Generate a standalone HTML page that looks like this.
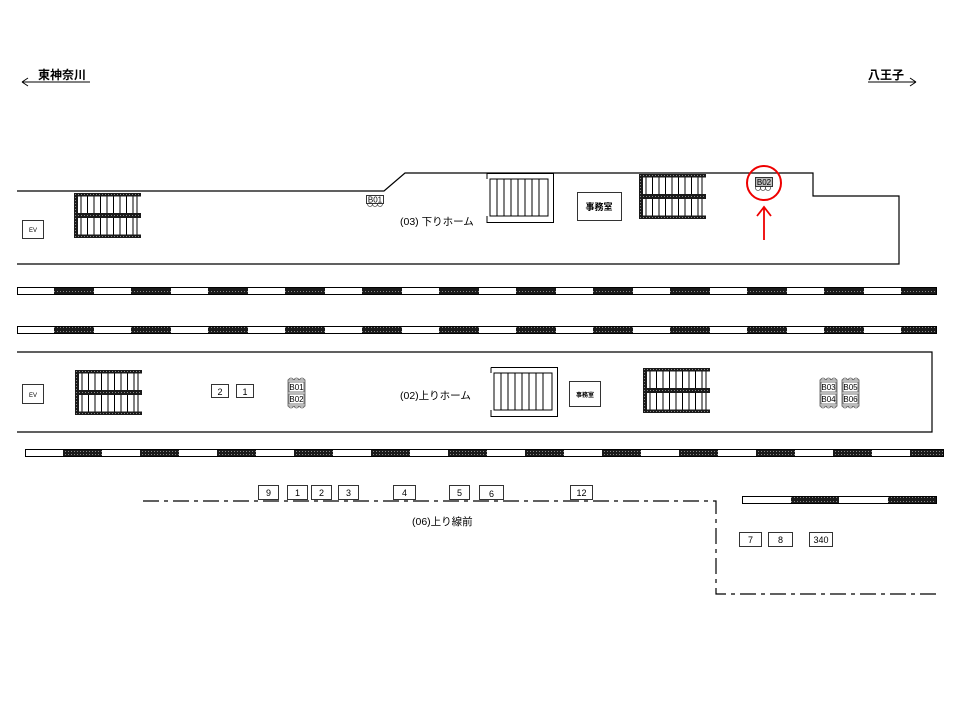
<!DOCTYPE html>
<html><head><meta charset="utf-8"><style>
html,body{margin:0;padding:0;background:#fff}
svg{display:block}
text{font-family:"Liberation Sans","Noto Sans CJK JP",sans-serif;fill:#000}
</style></head><body>
<svg width="960" height="720" viewBox="0 0 960 720" xmlns="http://www.w3.org/2000/svg">
<defs>
<pattern id="dk" width="3" height="3" patternUnits="userSpaceOnUse">
<rect width="3" height="3" fill="#1a1a1a"/><rect x="1" y="1" width="1" height="1" fill="#888"/>
</pattern>
<pattern id="trk" x="17" y="0" width="77" height="10" patternUnits="userSpaceOnUse">
<rect width="37" height="10" fill="#fff"/><rect x="37" width="40" height="10" fill="url(#dk)"/>
</pattern>
<pattern id="trk2" x="25" y="0" width="77" height="10" patternUnits="userSpaceOnUse">
<rect width="38" height="10" fill="#fff"/><rect x="38" width="39" height="10" fill="url(#dk)"/>
</pattern>
<pattern id="trk3" x="742" y="0" width="97" height="10" patternUnits="userSpaceOnUse">
<rect width="49" height="10" fill="#fff"/><rect x="49" width="48" height="10" fill="url(#dk)"/>
</pattern>
<g id="stair">
<rect x="0" y="0" width="67" height="3.5" fill="url(#dk)"/>
<rect x="0" y="20" width="67" height="5" fill="url(#dk)"/>
<rect x="0" y="41.5" width="67" height="3.5" fill="url(#dk)"/>
<rect x="0" y="0" width="4" height="45" fill="url(#dk)"/>
<g stroke="#000" stroke-width="1">
<path d="M7 3.5V20M13.5 3.5V20M20 3.5V20M26.5 3.5V20M33 3.5V20M39.5 3.5V20M46 3.5V20M52.5 3.5V20M59 3.5V20M63 3.5V20"/>
<path d="M7 25V41.5M13.5 25V41.5M20 25V41.5M26.5 25V41.5M33 25V41.5M39.5 25V41.5M46 25V41.5M52.5 25V41.5M59 25V41.5M63 25V41.5"/>
</g>
</g>
<g id="esc" fill="none" stroke="#000" stroke-width="1">
<path d="M1 0.5H67.5V49.5H1V43M1 0.5V6" fill="#fff"/>
<rect x="4" y="6" width="58" height="37"/>
<path d="M11 6V43M18 6V43M25 6V43M32 6V43M39 6V43M46 6V43M53 6V43"/>
</g>
<g id="bench" fill="none" stroke="#555" stroke-width="0.8">
<circle cx="4" cy="2.5" r="2.5"/><circle cx="9.5" cy="2.5" r="2.5"/><circle cx="15" cy="2.5" r="2.5"/>
<circle cx="4" cy="27.5" r="2.5"/><circle cx="9.5" cy="27.5" r="2.5"/><circle cx="15" cy="27.5" r="2.5"/>
<rect x="1" y="2" width="17" height="26" fill="#fff"/>
<rect x="2" y="4" width="15" height="10"/><rect x="2" y="16" width="15" height="10"/>
</g>
</defs>

<text x="38" y="79" font-size="12" font-weight="bold">東神奈川</text>
<path d="M22 82H90M22 82l6-4M22 82l6 4" stroke="#000" fill="none" stroke-width="1"/>
<text x="868" y="79" font-size="12" font-weight="bold">八王子</text>
<path d="M868 82H916M916 82l-6-4M916 82l-6 4" stroke="#000" fill="none" stroke-width="1"/>

<path d="M17 191H384L405 173H813V196H899V264H17" fill="none" stroke="#000" stroke-width="1.2"/>
<rect x="22.5" y="220.5" width="21" height="18" fill="#fff" stroke="#333"/>
<text x="33" y="232" font-size="6" text-anchor="middle">EV</text>
<use href="#stair" x="74" y="193"/>
<g>
<circle cx="370" cy="204" r="2.5" fill="none" stroke="#555" stroke-width="0.8"/><circle cx="375" cy="204" r="2.5" fill="none" stroke="#555" stroke-width="0.8"/><circle cx="380" cy="204" r="2.5" fill="none" stroke="#555" stroke-width="0.8"/>
<rect x="366.5" y="195.5" width="17" height="8" fill="#fff" stroke="#333"/>
<text x="375" y="202.5" font-size="8" text-anchor="middle">B01</text>
</g>
<text x="400" y="225" font-size="10.5">(03) 下りホーム</text>
<use href="#esc" x="486" y="173"/>
<rect x="577.5" y="192.5" width="44" height="28" fill="#fff" stroke="#333"/>
<text x="599" y="210" font-size="9" text-anchor="middle" font-weight="bold">事務室</text>
<use href="#stair" x="639" y="174"/>
<g>
<circle cx="758" cy="188" r="2.5" fill="none" stroke="#555" stroke-width="0.8"/><circle cx="763" cy="188" r="2.5" fill="none" stroke="#555" stroke-width="0.8"/><circle cx="768" cy="188" r="2.5" fill="none" stroke="#555" stroke-width="0.8"/>
<rect x="755.5" y="177.5" width="17" height="9" fill="#bbb" stroke="#333"/>
<text x="764" y="185" font-size="8" text-anchor="middle">B02</text>
</g>
<circle cx="764" cy="183" r="17" fill="none" stroke="#e00" stroke-width="2"/>
<path d="M764 240V208M757 216L764 207L771 216" fill="none" stroke="#e00" stroke-width="1.8"/>

<rect x="17.5" y="287.5" width="919" height="7" fill="url(#trk)" stroke="#000"/>
<rect x="17.5" y="326.5" width="919" height="7" fill="url(#trk)" stroke="#000"/>

<path d="M17 352H932V432H17" fill="none" stroke="#000" stroke-width="1.2"/>
<rect x="22.5" y="384.5" width="21" height="19" fill="#fff" stroke="#333"/>
<text x="33" y="397" font-size="6" text-anchor="middle">EV</text>
<use href="#stair" x="75" y="370"/>
<rect x="211.5" y="384.5" width="17" height="13" fill="#fff" stroke="#333"/>
<text x="220" y="395" font-size="9" text-anchor="middle">2</text>
<rect x="236.5" y="384.5" width="17" height="13" fill="#fff" stroke="#333"/>
<text x="245" y="395" font-size="9" text-anchor="middle">1</text>
<use href="#bench" x="287" y="378"/>
<text x="296.5" y="390" font-size="8" text-anchor="middle">B01</text>
<text x="296.5" y="402" font-size="8" text-anchor="middle">B02</text>
<text x="400" y="399" font-size="10.5">(02)上りホーム</text>
<use href="#esc" x="490" y="367"/>
<rect x="569.5" y="381.5" width="31" height="25" fill="#fff" stroke="#333"/>
<text x="585" y="397" font-size="6" text-anchor="middle" font-weight="bold">事務室</text>
<use href="#stair" x="643" y="368"/>
<use href="#bench" x="819" y="378"/>
<text x="828.5" y="390" font-size="8" text-anchor="middle">B03</text>
<text x="828.5" y="402" font-size="8" text-anchor="middle">B04</text>
<use href="#bench" x="841" y="378"/>
<text x="850.5" y="390" font-size="8" text-anchor="middle">B05</text>
<text x="850.5" y="402" font-size="8" text-anchor="middle">B06</text>

<rect x="25.5" y="449.5" width="918" height="7" fill="url(#trk2)" stroke="#000"/>

<path d="M143 501H716V594H940" fill="none" stroke="#000" stroke-width="1.2" stroke-dasharray="16,5,4,5"/>
<g fill="#fff" stroke="#333">
<rect x="258.5" y="485.5" width="20" height="14"/><rect x="287.5" y="485.5" width="20" height="14"/>
<rect x="311.5" y="485.5" width="20" height="14"/><rect x="338.5" y="485.5" width="20" height="14"/>
<rect x="393.5" y="485.5" width="22" height="14"/><rect x="449.5" y="485.5" width="20" height="14"/>
<rect x="479.5" y="485.5" width="24" height="14"/><rect x="570.5" y="485.5" width="22" height="14"/>
<rect x="739.5" y="532.5" width="22" height="14"/><rect x="768.5" y="532.5" width="24" height="14"/>
<rect x="809.5" y="532.5" width="23" height="14"/>
</g>
<g font-size="9" text-anchor="middle">
<text x="268.5" y="496">9</text><text x="297.5" y="496">1</text><text x="321.5" y="496">2</text>
<text x="348.5" y="496">3</text><text x="404.5" y="496">4</text><text x="459.5" y="496">5</text>
<text x="491.5" y="497">6</text><text x="581.5" y="496">12</text>
<text x="750.5" y="543">7</text><text x="780.5" y="543">8</text><text x="821" y="543">340</text>
</g>
<text x="412" y="525" font-size="10.5">(06)上り線前</text>
<rect x="742.5" y="496.5" width="194" height="7" fill="url(#trk3)" stroke="#000"/>
</svg>
</body></html>
